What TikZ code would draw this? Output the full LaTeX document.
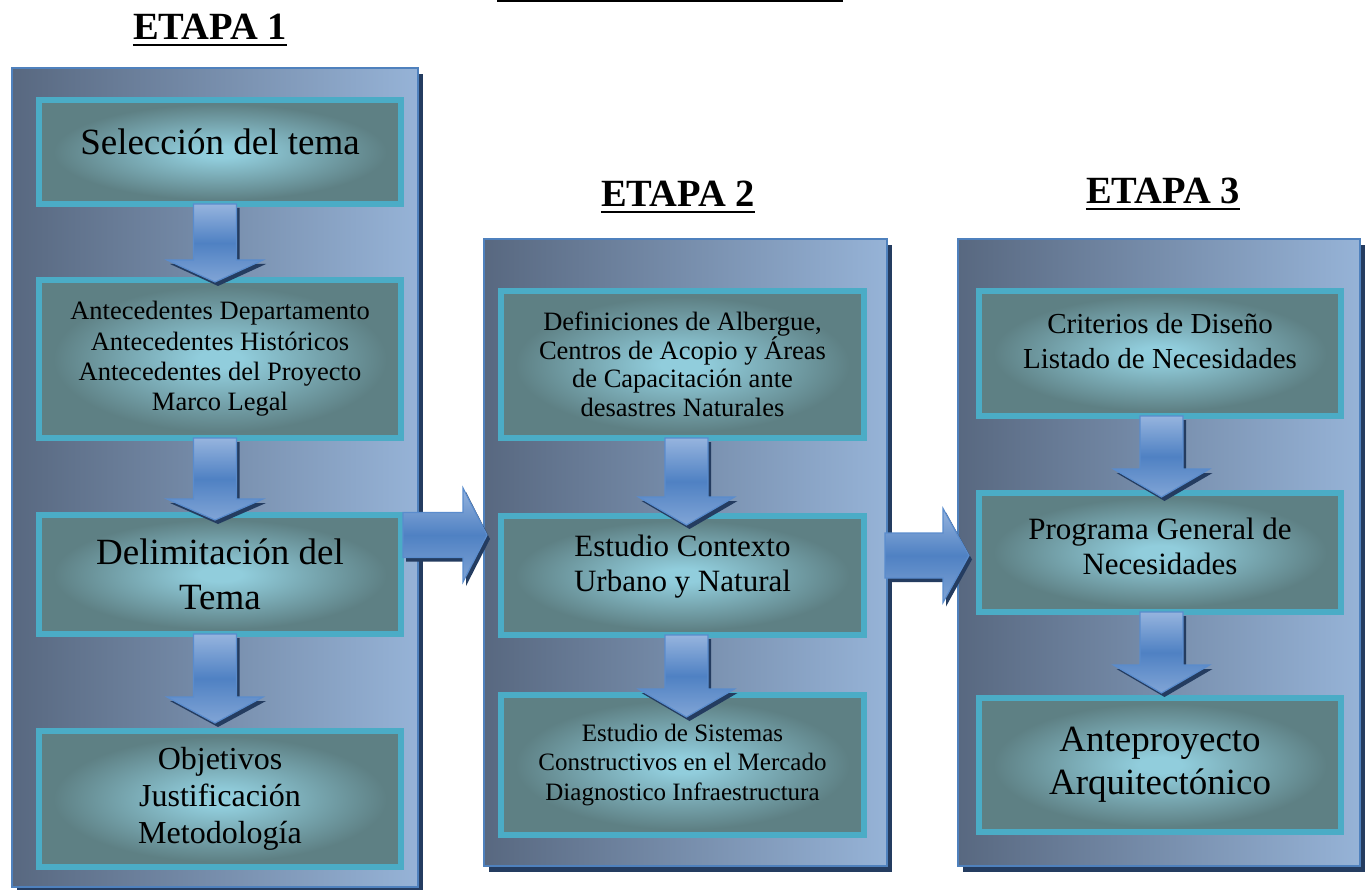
\documentclass[tikz,border=0pt]{standalone}
\usepackage{fontspec}
\setmainfont{Liberation Serif}
\usetikzlibrary{calc}
\definecolor{pl}{RGB}{88,104,128}
\definecolor{pr}{RGB}{150,179,215}
\definecolor{pborder}{RGB}{79,129,189}
\definecolor{pshadow}{RGB}{36,60,96}
\definecolor{cyanb}{RGB}{75,172,198}
\definecolor{boxdark}{RGB}{94,128,132}
\definecolor{boxlight}{RGB}{145,205,220}
\definecolor{alight}{RGB}{150,180,222}
\definecolor{amid}{RGB}{79,129,195}
\definecolor{aline}{RGB}{90,140,205}
\pgfdeclareradialshading{boxshade}{\pgfpoint{0bp}{0bp}}{color(0bp)=(boxlight); color(3bp)=(boxlight); color(23bp)=(boxdark); color(50bp)=(boxdark)}
\tikzset{
  panel/.style={draw=pborder, line width=2pt, left color=pl, right color=pr,
    preaction={fill=pshadow, transform canvas={xshift=5pt,yshift=-6pt}}, inner sep=0pt},
  box/.style={draw=cyanb, line width=6pt, shading=boxshade, align=center, inner sep=0pt, text=black},
  etapa/.style={font=\bfseries\fontsize{38.5}{42}\selectfont, inner sep=0pt, anchor=base},
  uline/.style={line width=2.4pt, black},
  blockarrow/.style={draw=aline, line width=1.2pt, top color=alight, bottom color=alight!70!amid, middle color=amid,
    preaction={fill=pshadow, transform canvas={xshift=3pt,yshift=-4pt}}},
}
% vertical block arrow: from node, to node, x offset, head length, tip overlap
\newcommand\vblock[5]{%
  \path[blockarrow] let \p1=($(#1.south)+(#3,-3)$), \p2=($(#2.north)+(#3,#5)$) in
    (\x1-21.5pt,\y1) -- (\x1+21.5pt,\y1) -- (\x1+21.5pt,\y2+#4pt) -- (\x1+48pt,\y2+#4pt)
    -- (\x1,\y2) -- (\x1-48pt,\y2+#4pt) -- (\x1-21.5pt,\y2+#4pt) -- cycle;}
% horizontal block arrow: from node, to node, start offset, centre y, head length, tip overlap
\newcommand\hblock[6]{%
  \path[blockarrow] let \p1=($(#1.east)+(#3,0)$), \p2=($(#2.west)+(#6,0)$), \p3=(0,#4) in
    (\x1,\y3+22.5pt) -- (\x2-#5pt,\y3+22.5pt) -- (\x2-#5pt,\y3+47pt) -- (\x2,\y3)
    -- (\x2-#5pt,\y3-47pt) -- (\x2-#5pt,\y3-22.5pt) -- (\x1,\y3-22.5pt) -- cycle;}
\begin{document}
\begin{tikzpicture}[x=1pt,y=-1pt]
\useasboundingbox (0,0) rectangle (1372,890);
\fill[white] (0,0) rectangle (1372,890);
% top rule
\coordinate (tl) at (497,1);
\coordinate (tr) at (843,1);
\draw[line width=2pt] (tl) -- (tr);
% headings
\node[etapa] (e1) at (210,40) {ETAPA 1};
\node[etapa] (e2) at (678,207) {ETAPA 2};
\node[etapa] (e3) at (1163,204) {ETAPA 3};
\foreach \e in {e1,e2,e3}{\draw[uline] ([yshift=-5pt]\e.base west) -- ([yshift=-5pt]\e.base east);}
% panels
\node[panel, minimum width=406pt, minimum height=819pt] (p1) at (215,477.5) {};
\node[panel, minimum width=403pt, minimum height=627pt] (p2) at (685.5,552.5) {};
\node[panel, minimum width=402pt, minimum height=627pt] (p3) at (1159,552.5) {};
% stage 1 boxes
\node[box, minimum width=362pt, minimum height=104pt, text depth=20pt,
  font=\fontsize{37}{43}\selectfont] (b1) at (220,152) {Selección del tema};
\node[box, minimum width=362pt, minimum height=158pt,
  font=\fontsize{26.5}{30.4}\selectfont] (b2) at (220,359)
  {Antecedentes Departamento\\Antecedentes Históricos\\Antecedentes del Proyecto\\Marco Legal};
\node[box, minimum width=362pt, minimum height=119pt,
  font=\fontsize{37}{45}\selectfont] (b3) at (220,574.5) {Delimitación del\\Tema};
\node[box, minimum width=362pt, minimum height=136pt,
  font=\fontsize{32}{36.7}\selectfont] (b4) at (220,799) {Objetivos\\Justificación\\Metodología};
% stage 2 boxes
\node[box, minimum width=363pt, minimum height=147pt,
  font=\fontsize{26.5}{28.5}\selectfont] (c1) at (682.5,364.5)
  {Definiciones de Albergue,\\Centros de Acopio y Áreas\\de Capacitación ante\\desastres Naturales};
\node[box, minimum width=363pt, minimum height=119pt, text depth=25pt,
  font=\fontsize{31}{35}\selectfont] (c2) at (682.5,575.5) {Estudio Contexto\\Urbano y Natural};
\node[box, minimum width=363pt, minimum height=140pt,
  font=\fontsize{25}{29.5}\selectfont] (c3) at (682.5,765)
  {Estudio de Sistemas\\Constructivos en el Mercado\\Diagnostico Infraestructura};
% stage 3 boxes
\node[box, minimum width=362pt, minimum height=125pt, text depth=26pt,
  font=\fontsize{29}{35}\selectfont] (d1) at (1160,353.5) {Criterios de Diseño\\Listado de Necesidades};
\node[box, minimum width=362pt, minimum height=119pt, text depth=12pt,
  font=\fontsize{31}{35}\selectfont] (d2) at (1160,552.5) {Programa General de\\Necesidades};
\node[box, minimum width=362pt, minimum height=134pt,
  font=\fontsize{37}{43}\selectfont] (d3) at (1160,765) {Anteproyecto\\Arquitectónico};
% vertical arrows
\vblock{b1}{b2}{-5}{22}{5}
\vblock{b2}{b3}{-5}{21}{8}
\vblock{b3}{b4}{-5}{26}{-5}
\vblock{c1}{c2}{4}{28}{12}
\vblock{c2}{c3}{4}{28}{25}
\vblock{d1}{d2}{1.5}{28}{7}
\vblock{d2}{d3}{1.5}{28}{-2}
% horizontal arrows
\hblock{b3}{p2}{-1}{535}{24}{4}
\hblock{p2}{p3}{-3}{555.5}{26}{12}
\end{tikzpicture}
\end{document}
